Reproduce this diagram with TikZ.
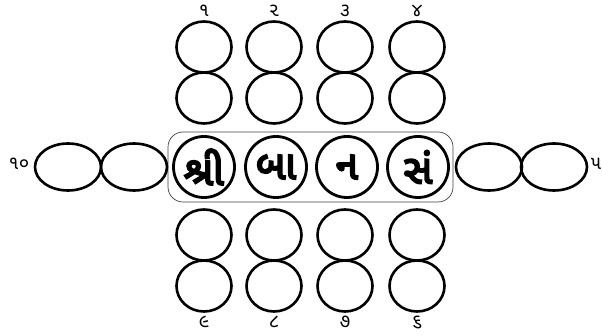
\documentclass[tikz,border=0pt]{standalone}
\usepackage{fontspec}
\usetikzlibrary{shapes.geometric}
\newfontfamily\guj[Script=Gujarati]{Noto Sans Gujarati UI}
\newfontfamily\gujb[Script=Gujarati,FakeBold=5]{Noto Sans Gujarati UI}
\tikzset{
  ring/.style={ellipse,draw,line width=2.6pt,inner sep=0pt,minimum width=55pt,minimum height=51pt},
  sidering/.style={ellipse,draw,line width=2.6pt,inner sep=0pt,minimum width=66pt,minimum height=47pt},
  letter/.style={circle,draw,line width=2.8pt,inner sep=0pt,minimum size=61pt,font=\gujb\fontsize{40}{40}\selectfont},
  num/.style={font=\guj\fontsize{19}{19}\selectfont,inner sep=0pt},
  frame/.style={draw=black!75,line width=0.7pt,rounded corners=15pt}
}
\begin{document}
\begin{tikzpicture}[x=1pt,y=-1pt]
\useasboundingbox (0,0) rectangle (602,336);
% frame
\draw[frame] (168,132) rectangle (453,202);
% center letters
\node[letter] (c1) at (204,167) {શ્રી};
\node[letter] (c2) at (276,167) {બા};
\node[letter] (c3) at (347,167) {ન};
\node[letter] (c4) at (418,167) {સં};
% rings
\foreach \i/\x in {1/204,2/274,3/345,4/417}{
  \node[ring] (t\i a) at (\x,47) {};
  \node[ring] (t\i b) at (\x,98) {};
  \node[ring] (b\i a) at (\x,235) {};
  \node[ring] (b\i b) at (\x,286) {};
}
% side rings
\node[sidering] (l1) at (68,167) {};
\node[sidering] (l2) at (134,167) {};
\node[sidering] (r1) at (489,167) {};
\node[sidering] (r2) at (554,167) {};
% numbers
\node[num] (n1) at (204,11) {૧};
\node[num] (n2) at (274,11) {૨};
\node[num] (n3) at (345,11) {૩};
\node[num] (n4) at (417,11) {૪};
\node[num] (n5) at (596,164) {૫};
\node[num] (n6) at (417,322) {૬};
\node[num] (n7) at (345,322) {૭};
\node[num] (n8) at (274,322) {૮};
\node[num] (n9) at (204,322) {૯};
\node[num] (n10) at (19,164) {૧૦};
\end{tikzpicture}
\end{document}
